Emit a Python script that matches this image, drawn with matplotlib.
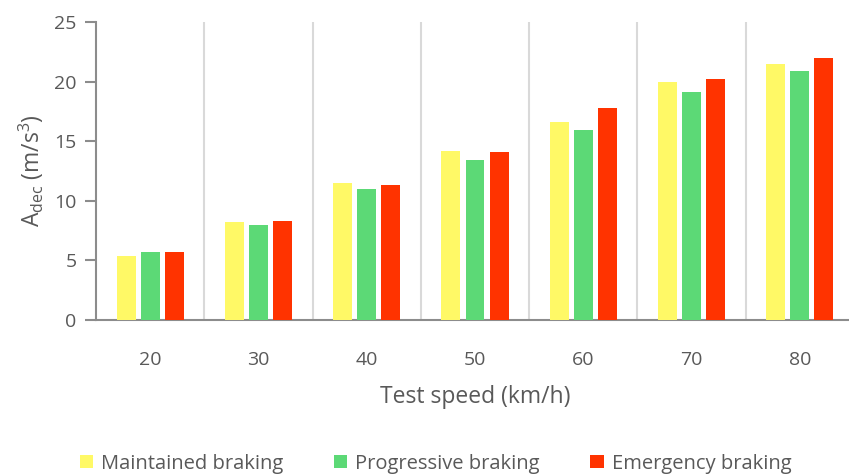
import numpy as np
import matplotlib
matplotlib.use("Agg")
import matplotlib.pyplot as plt

speeds = ["20", "30", "40", "50", "60", "70", "80"]
maintained = [5.37, 8.22, 11.49, 14.20, 16.61, 19.94, 21.45]
progressive = [5.68, 7.97, 10.96, 13.42, 15.94, 19.13, 20.89]
emergency = [5.73, 8.31, 11.33, 14.07, 17.79, 20.25, 21.95]
series_names = ["Maintained braking", "Progressive braking", "Emergency braking"]
series_colors = ["#FFF966", "#5CD976", "#FF3300"]

plt.rcParams['font.family'] = ['Open Sans', 'DejaVu Sans']
textColor = "#595959"

fig = plt.figure(figsize=(8.49, 4.74), dpi=100)
ax = fig.add_axes([96/849, 154/474, 758/849, 298/474])

x = np.arange(len(speeds))
barWidth = 0.175
step = 0.222
for k, (vals, name, col) in enumerate(zip([maintained, progressive, emergency], series_names, series_colors)):
    ax.bar(x + (k-1)*step, vals, width=barWidth, color=col, label=name, zorder=3)

for s in range(len(speeds)-1):
    ax.axvline(s+0.5, color="#d9d9d9", linewidth=1.5, zorder=1)

ax.set_xlim(-0.5, len(speeds)-0.5)
ax.set_ylim(0, 25)
ax.set_yticks([0, 5, 10, 15, 20, 25])
ax.set_xticks(x)
ax.set_xticklabels(speeds)

for side in ["top", "right"]:
    ax.spines[side].set_visible(False)
for side in ["left", "bottom"]:
    ax.spines[side].set_color("#8c8c8c")
    ax.spines[side].set_linewidth(1.5)

ax.tick_params(axis="y", length=8, width=1.5, color="#8c8c8c", labelsize=14, labelcolor=textColor, pad=6)
ax.tick_params(axis="x", length=0, labelsize=14, labelcolor=textColor, pad=22)

ax.set_xlabel("Test speed (km/h)", fontsize=16.5, color=textColor, labelpad=12)
ax.set_ylabel(r"A$_{\mathregular{dec}}$ (m/s$^{\mathregular{3}}$)", fontsize=16.5, color=textColor, labelpad=6)

fig.legend(loc="center", bbox_to_anchor=(0.513, 0.022), ncol=3, frameon=False,
           fontsize=14.5, labelcolor=textColor, handlelength=0.67, handleheight=0.67,
           handletextpad=0.4, columnspacing=2.5)

plt.savefig("out.png", dpi=100)
plt.close()
